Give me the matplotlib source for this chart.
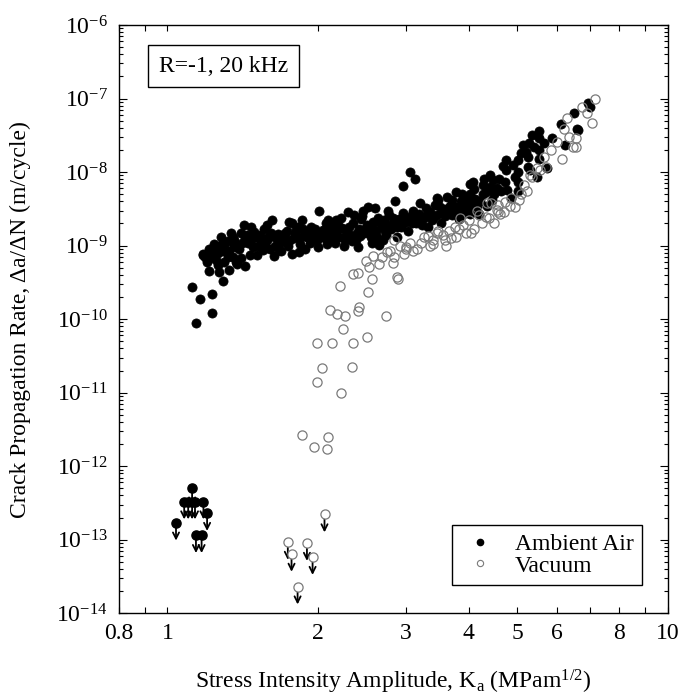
import matplotlib
matplotlib.use("Agg")
import matplotlib.pyplot as plt
from matplotlib.lines import Line2D
from matplotlib.ticker import FixedLocator, FixedFormatter, LogLocator, NullFormatter

plt.rcParams.update({
    "font.family": "serif",
    "font.serif": ["Liberation Serif", "DejaVu Serif"],
    "mathtext.fontset": "custom",
    "mathtext.rm": "Liberation Serif",
    "mathtext.it": "Liberation Serif:italic",
    "axes.unicode_minus": False,
    "font.size": 17,
})

# --- ambient air, K_a (MPa m^1/2) and da/dN (m/cycle) ---
air_k = [
    1.12, 1.16, 1.23, 1.23, 1.14, 1.29, 1.21, 1.27, 1.33, 1.43,
    1.18, 1.25, 1.19, 1.22, 1.20, 1.26, 1.30, 1.35, 1.38, 1.31,
    1.34, 1.42, 1.62, 2.01, 1.63, 1.69, 1.77, 1.83, 1.40, 1.43,
    1.49, 1.54, 1.59, 1.65, 1.72, 1.77, 1.81, 1.86, 1.90, 1.99,
    2.05, 2.11, 2.18, 2.17, 1.18, 1.24, 1.28, 1.32, 1.37, 1.40,
    1.46, 1.51, 1.37, 2.30, 1.27, 1.29, 1.36, 1.39, 1.45, 1.48,
    1.52, 1.55, 1.57, 1.60, 1.64, 1.67, 1.70, 1.74, 1.56, 1.61,
    1.79, 1.84, 1.88, 1.93, 1.96, 2.00, 2.03, 2.08, 2.13, 2.16,
    2.20, 2.23, 2.26, 2.28, 2.22, 2.25, 1.94, 2.07, 2.14, 1.87,
    2.32, 2.35, 2.38, 2.41, 2.44, 2.47, 2.50, 2.52, 2.55, 2.58,
    2.61, 2.64, 2.65, 2.68, 2.71, 2.74, 2.77, 2.80, 2.83, 2.87,
    2.90, 2.93, 2.96, 3.00, 3.03, 3.07, 3.10, 3.14, 3.18, 3.22,
    2.36, 2.46, 2.60, 2.85, 2.95, 3.05, 3.12, 2.40, 2.56, 2.70,
    3.25, 3.28, 3.32, 3.35, 3.38, 3.42, 3.45, 3.48, 3.52, 3.55,
    3.58, 3.62, 3.65, 3.70, 3.70, 3.73, 3.78, 3.78, 3.82, 3.86,
    3.90, 3.94, 3.98, 4.00, 4.02, 4.02, 4.06, 4.08, 4.12, 4.19,
    4.02, 4.28, 4.27, 4.34, 4.41, 4.41, 4.47, 4.50, 4.22, 4.55,
    4.60, 4.64, 4.68, 4.72, 4.74, 4.76, 4.77, 4.87, 4.36, 4.46,
    5.02, 5.02, 5.02, 5.02, 4.95, 5.13, 5.28, 5.26, 5.26, 5.30,
    5.53, 5.53, 5.52, 5.54, 5.74, 5.48, 5.86, 6.23, 6.13, 6.60,
    6.63, 6.49, 6.93, 7.00, 5.20, 5.40, 4.90, 5.10, 5.36, 5.65,
    1.21, 1.24, 1.26, 1.28, 1.30, 1.32, 1.33, 1.35, 1.36, 1.23,
    1.41, 1.44, 1.47, 1.50, 1.53, 1.58, 1.62, 1.66, 1.68, 1.71,
    1.73, 1.76, 1.80, 1.82, 1.85, 1.89, 1.92, 1.97, 2.02, 2.06,
    2.10, 2.15, 2.19, 2.27, 2.31, 2.34, 2.39, 2.43, 2.48, 2.53,
    2.57, 2.62, 2.66, 2.72, 2.78, 2.82, 2.88, 2.98, 3.08, 3.16,
    3.30, 3.40, 3.50, 3.60, 3.68, 3.75, 3.84, 3.96, 4.10, 4.15,
    1.47, 1.58, 1.75, 2.09, 2.45, 2.76, 3.20, 3.45, 3.88, 4.30,
]
air_rate = [
    2.7e-10, 1.85e-10, 2.2e-10, 1.2e-10, 8.8e-11, 3.3e-10, 4.5e-10, 4.4e-10, 4.6e-10, 5.2e-10,
    7.4e-10, 6.4e-10, 7.0e-10, 8.0e-10, 6.0e-10, 5.4e-10, 6.0e-10, 7.0e-10, 5.6e-10, 8.2e-10,
    1.49e-9, 1.9e-9, 2.2e-9, 3.0e-9, 7.2e-10, 8.4e-10, 7.8e-10, 8.2e-10, 1.47e-9, 1.25e-9,
    1.54e-9, 1.19e-9, 1.32e-9, 1.25e-9, 1.47e-9, 2.0e-9, 1.63e-9, 2.2e-9, 1.32e-9, 1.19e-9,
    1.63e-9, 1.25e-9, 1.63e-9, 2.2e-9, 7.7e-10, 8.5e-10, 8.5e-10, 7.0e-10, 6.0e-10, 6.7e-10,
    7.4e-10, 7.4e-10, 9.6e-10, 2.9e-9, 1.0e-9, 1.1e-9, 1.2e-9, 9.0e-10, 1.1e-9, 9.5e-10,
    1.0e-9, 8.6e-10, 1.1e-9, 9.0e-10, 1.0e-9, 8.8e-10, 1.15e-9, 1.0e-9, 1.7e-9, 1.5e-9,
    1.25e-9, 1.05e-9, 9.0e-10, 1.1e-9, 1.45e-9, 9.5e-10, 1.3e-9, 1.05e-9, 1.4e-9, 1.1e-9,
    1.3e-9, 1.75e-9, 1.2e-9, 1.55e-9, 2.4e-9, 1.0e-9, 1.8e-9, 2.0e-9, 1.9e-9, 1.7e-9,
    1.4e-9, 2.0e-9, 1.2e-9, 1.7e-9, 2.3e-9, 1.5e-9, 1.9e-9, 3.4e-9, 1.3e-9, 2.1e-9,
    1.6e-9, 2.4e-9, 1.02e-9, 1.8e-9, 2.2e-9, 1.4e-9, 2.6e-9, 1.7e-9, 2.0e-9, 1.32e-9,
    2.3e-9, 1.8e-9, 2.8e-9, 2.1e-9, 1.6e-9, 2.5e-9, 3.0e-9, 2.0e-9, 2.7e-9, 1.9e-9,
    2.6e-9, 3.0e-9, 3.2e-9, 4.0e-9, 6.5e-9, 1.0e-8, 8.0e-9, 9.5e-10, 1.1e-9, 1.2e-9,
    2.4e-9, 3.2e-9, 1.8e-9, 2.9e-9, 2.2e-9, 3.6e-9, 2.6e-9, 4.2e-9, 2.0e-9, 3.1e-9,
    2.5e-9, 4.6e-9, 3.3e-9, 4.2e-9, 2.6e-9, 3.0e-9, 3.4e-9, 5.4e-9, 2.3e-9, 4.0e-9,
    2.7e-9, 4.6e-9, 3.2e-9, 3.75e-9, 5.1e-9, 2.7e-9, 3.75e-9, 7.4e-9, 4.3e-9, 2.7e-9,
    6.9e-9, 6.7e-9, 5.1e-9, 5.4e-9, 9.1e-9, 6.3e-9, 7.8e-9, 5.1e-9, 4.0e-9, 6.0e-9,
    8.0e-9, 5.5e-9, 1.2e-8, 7.4e-9, 1.06e-8, 1.46e-8, 5.7e-9, 4.5e-9, 3.5e-9, 4.2e-9,
    1.46e-8, 1.01e-8, 7.4e-9, 5.6e-9, 8.5e-9, 2.3e-8, 2.5e-8, 1.6e-8, 1.18e-8, 1.06e-8,
    3.6e-8, 2.9e-8, 2.0e-8, 1.5e-8, 1.15e-8, 8.5e-9, 2.9e-8, 2.3e-8, 4.5e-8, 3.9e-8,
    3.7e-8, 6.4e-8, 8.8e-8, 7.7e-8, 1.9e-8, 2.2e-8, 1.25e-8, 1.8e-8, 3.2e-8, 2.5e-8,
    9.0e-10, 1.05e-9, 8.0e-10, 1.3e-9, 9.5e-10, 1.15e-9, 8.5e-10, 1.3e-9, 1.0e-9, 7.0e-10,
    1.1e-9, 1.4e-9, 1.2e-9, 1.3e-9, 1.4e-9, 1.2e-9, 1.35e-9, 1.45e-9, 1.1e-9, 1.3e-9,
    1.6e-9, 1.2e-9, 1.45e-9, 1.8e-9, 1.3e-9, 1.55e-9, 1.25e-9, 1.7e-9, 1.5e-9, 1.25e-9,
    1.6e-9, 1.35e-9, 1.9e-9, 1.4e-9, 1.8e-9, 1.15e-9, 1.5e-9, 1.35e-9, 1.7e-9, 1.5e-9,
    1.7e-9, 1.3e-9, 2.0e-9, 1.6e-9, 1.9e-9, 2.4e-9, 1.8e-9, 2.4e-9, 2.0e-9, 2.3e-9,
    2.6e-9, 2.4e-9, 3.3e-9, 3.0e-9, 3.6e-9, 2.8e-9, 3.2e-9, 3.9e-9, 5.8e-9, 3.4e-9,
    1.8e-9, 1.9e-9, 2.1e-9, 2.2e-9, 2.5e-9, 3.0e-9, 3.8e-9, 4.5e-9, 5.0e-9, 8.0e-9,
]

# --- vacuum ---
vac_k = [
    1.86, 2.09, 1.96, 2.08, 1.99, 2.13, 2.35, 2.51, 2.04, 2.34,
    1.99, 2.22, 2.21, 2.11, 2.18, 2.26, 2.41, 2.40, 2.73, 2.24,
    2.52, 2.56, 2.35, 2.40, 2.88, 2.89, 2.49, 2.53, 2.65, 2.57,
    2.68, 2.75, 2.79, 2.84, 2.82, 2.84, 2.91, 3.00, 3.00, 3.10,
    2.97, 3.21, 3.31, 3.40, 3.39, 3.55, 3.59, 3.60, 3.75, 3.77,
    4.33, 4.55, 4.43, 4.35, 4.58, 4.72, 4.87, 4.83, 4.62, 4.57,
    5.08, 5.16, 5.30, 5.36, 5.48, 5.55, 5.72, 5.66, 5.84, 6.00,
    6.15, 6.47, 6.55, 6.34, 6.55, 6.20, 6.29, 7.07, 6.91, 6.75,
    7.17, 3.90, 4.00, 4.10, 4.20, 3.65, 3.85, 4.15, 3.48, 3.95,
    3.05, 3.15, 3.25, 3.35, 3.45, 3.68, 3.82, 4.05, 4.25, 4.40,
    4.50, 4.70, 4.95, 5.05, 5.22,
]
vac_rate = [
    2.64e-12, 2.51e-12, 1.83e-12, 1.69e-12, 4.67e-11, 4.76e-11, 4.76e-11, 5.74e-11, 2.17e-11, 2.24e-11,
    1.40e-11, 9.9e-12, 2.81e-10, 1.33e-10, 1.17e-10, 1.11e-10, 1.44e-10, 1.30e-10, 1.10e-10, 7.24e-11,
    2.31e-10, 3.50e-10, 4.09e-10, 4.19e-10, 3.69e-10, 3.50e-10, 6.21e-10, 5.15e-10, 5.6e-10, 7.26e-10,
    6.9e-10, 8.24e-10, 8.4e-10, 7.05e-10, 5.73e-10, 1.19e-9, 9.8e-10, 9.6e-10, 8.9e-10, 8.5e-10,
    7.8e-10, 1.07e-9, 1.35e-9, 1.21e-9, 1.05e-9, 1.39e-9, 1.19e-9, 9.9e-10, 1.8e-9, 1.32e-9,
    2.42e-9, 3.04e-9, 3.75e-9, 3.75e-9, 3.56e-9, 3.9e-9, 4.4e-9, 3.5e-9, 2.7e-9, 2.9e-9,
    5.1e-9, 6.7e-9, 9.1e-9, 8.6e-9, 1.12e-8, 1.06e-8, 1.18e-8, 1.58e-8, 2.0e-8, 2.6e-8,
    1.53e-8, 2.2e-8, 2.2e-8, 3.0e-8, 2.9e-8, 3.8e-8, 5.5e-8, 4.7e-8, 6.4e-8, 7.7e-8,
    9.8e-8, 1.9e-9, 2.2e-9, 1.7e-9, 2.6e-9, 1.6e-9, 2.4e-9, 3.0e-9, 1.6e-9, 1.5e-9,
    1.1e-9, 9.0e-10, 1.3e-9, 1.0e-9, 1.5e-9, 1.25e-9, 1.7e-9, 1.5e-9, 2.0e-9, 2.4e-9,
    2.0e-9, 2.9e-9, 3.4e-9, 4.2e-9, 5.5e-9,
]

# --- run-outs (no crack growth detected), drawn with down arrows ---
air_runout_k = [1.04, 1.08, 1.10, 1.12, 1.135, 1.12, 1.18, 1.20, 1.14, 1.17]
air_runout_rate = [1.7e-13, 3.3e-13, 3.3e-13, 3.3e-13, 3.3e-13, 5.1e-13, 3.3e-13, 2.3e-13, 1.15e-13, 1.15e-13]
vac_runout_k = [1.74, 1.77, 1.90, 1.95, 1.82, 2.06]
vac_runout_rate = [9.3e-14, 6.4e-14, 9.0e-14, 5.8e-14, 2.3e-14, 2.2e-13]

x_ticks = [0.8, 0.9, 1, 2, 3, 4, 5, 6, 7, 8, 9, 10]
x_tick_labels = ["0.8", "", "1", "2", "3", "4", "5", "6", "", "8", "", "10"]

OPEN_EDGE = "#7a7a7a"
ARROW_DROP = 1.75  # arrow tip sits this factor below the point

fig = plt.figure(figsize=(6.8, 6.96), dpi=100)
ax = fig.add_axes([0.175, 0.119, 0.807, 0.845])
ax.set_xscale("log")
ax.set_yscale("log")
ax.set_xlim(0.8, 10)
ax.set_ylim(1e-14, 1e-6)

ax.plot(air_k, air_rate, "o", color="black", ms=6.6, mec="black", mew=0.5, ls="none", zorder=3)
ax.plot(vac_k, vac_rate, "o", mfc="none", mec=OPEN_EDGE, ms=6.6, mew=0.9, ls="none", zorder=4)

for k, r in zip(air_runout_k + vac_runout_k, air_runout_rate + vac_runout_rate):
    ax.annotate("", xy=(k, r / ARROW_DROP), xytext=(k, r),
                arrowprops=dict(arrowstyle="->", color="black", lw=1.3,
                                shrinkA=0, shrinkB=0, mutation_scale=11), zorder=2)
ax.plot(air_runout_k, air_runout_rate, "o", color="black", ms=6.6, ls="none", zorder=3)
ax.plot(vac_runout_k, vac_runout_rate, "o", mfc="white", mec=OPEN_EDGE, ms=6.6, mew=0.9,
        ls="none", zorder=4)

ax.xaxis.set_major_locator(FixedLocator(x_ticks))
ax.xaxis.set_major_formatter(FixedFormatter(x_tick_labels))
ax.xaxis.set_minor_locator(FixedLocator([]))
ax.yaxis.set_major_locator(LogLocator(base=10, numticks=20))
ax.yaxis.set_minor_locator(LogLocator(base=10, subs=range(2, 10), numticks=20))
ax.yaxis.set_minor_formatter(NullFormatter())
ax.tick_params(which="both", direction="in", top=True, right=True, width=0.8, labelsize=17)
ax.tick_params(axis="x", which="major", length=4, pad=7)
ax.tick_params(axis="y", which="major", length=5.5, pad=8)
ax.tick_params(axis="y", which="minor", length=3)
for s in ax.spines.values():
    s.set_linewidth(1.0)

ax.set_xlabel(r"Stress Intensity Amplitude, K$_{\rm a}$ (MPam$^{1/2}$)", fontsize=17)
ax.set_ylabel("Crack Propagation Rate, \u0394a/\u0394N (m/cycle)", fontsize=17)
ax.xaxis.set_label_coords(0.5, -0.093)
ax.yaxis.set_label_coords(-0.16, 0.5)

ax.text(0.073, 0.93, "R=-1, 20 kHz", transform=ax.transAxes, fontsize=17, va="center",
        ha="left", bbox=dict(boxstyle="square,pad=0.45", fc="white", ec="black", lw=1.0))

handles = [
    Line2D([], [], marker="o", ls="none", color="black", ms=4.5),
    Line2D([], [], marker="o", ls="none", mfc="none", mec=OPEN_EDGE, ms=4.5, mew=0.8),
]
ax.legend(handles, ["Ambient Air", "Vacuum"], loc="lower right", bbox_to_anchor=(0.953, 0.048),
          borderaxespad=0, fancybox=False, edgecolor="black", framealpha=1, fontsize=17,
          handlelength=1.6, handletextpad=0.7, labelspacing=0.0, borderpad=0.35,
          ).get_frame().set_linewidth(1.0)

fig.savefig("out.png", dpi=100)
